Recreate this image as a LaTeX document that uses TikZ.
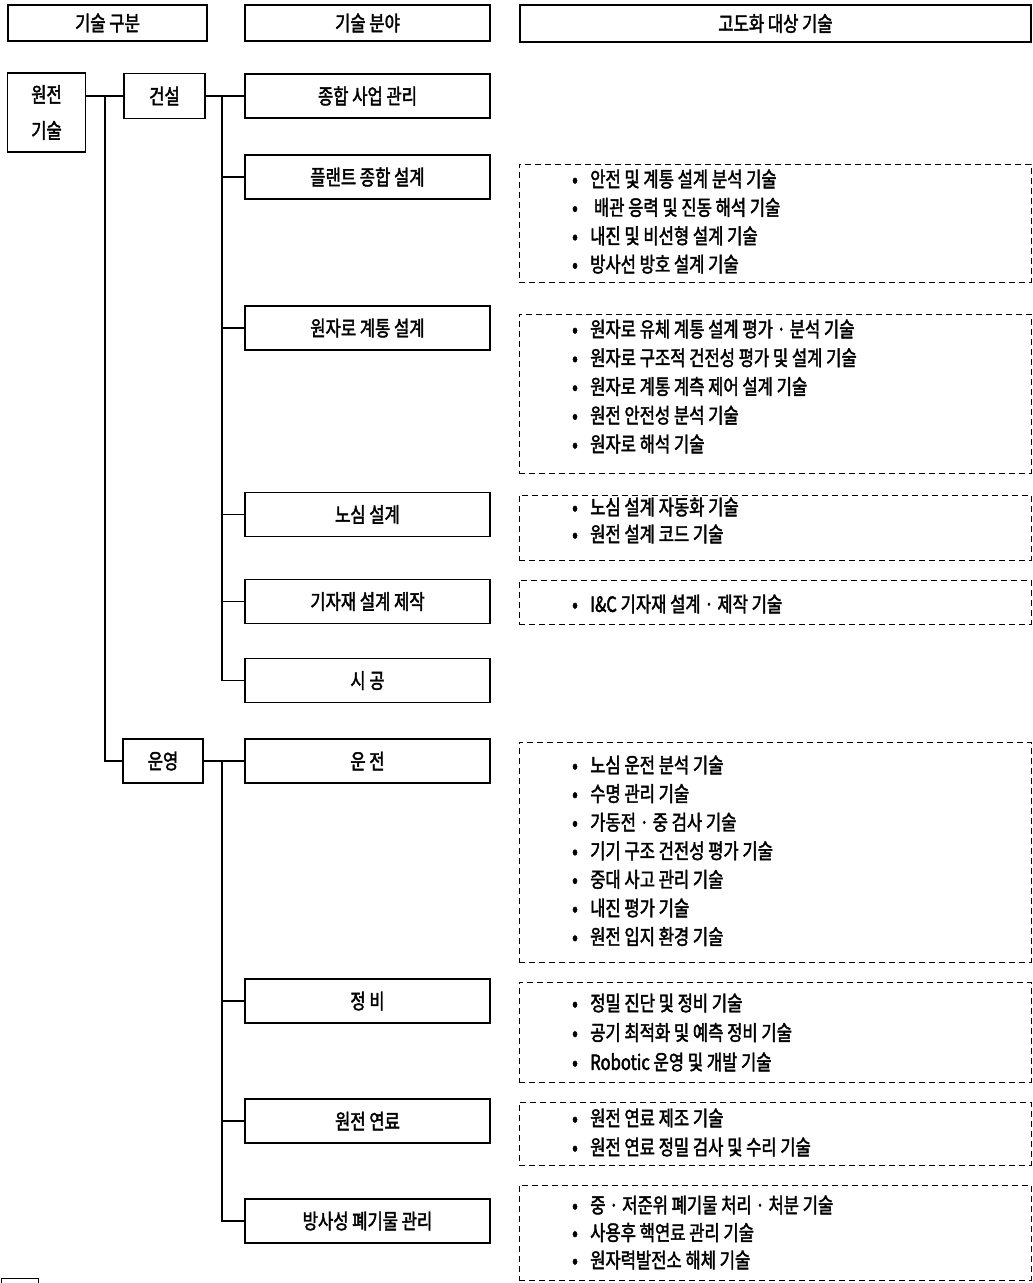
\documentclass[tikz,border=0pt]{standalone}
\usepackage{fontspec}
\setmainfont{Noto Sans CJK KR}[FakeStretch=0.79,FakeBold=2]
\begin{document}
\begin{tikzpicture}[x=1pt,y=-1pt,
  every node/.style={font=\fontsize{21}{26}\selectfont, inner sep=0pt},
  solidbox/.style={draw, line width=1.1pt, minimum height=44pt, minimum width=245pt},
  dbox/.style={draw, line width=1pt, dash pattern=on 6pt off 4pt, minimum width=512pt},
  item/.style={anchor=west},
  conn/.style={line width=1.1pt}]
\useasboundingbox (0,0) rectangle (1033,1283);
\clip (0,0) rectangle (1033,1283);
% headers
\node[solidbox, minimum width=199pt, minimum height=36pt] (h1) at (107.5,23) {기술 구분};
\node[solidbox, minimum height=36pt] (h2) at (367.5,23) {기술 분야};
\node[solidbox, minimum width=511pt, minimum height=37pt] (h3) at (775.5,23.5) {고도화 대상 기술};
% left
\node[solidbox, minimum width=78pt, minimum height=79pt, align=center, font=\fontsize{21}{36}\selectfont] (root) at (46.5,112.5) {원전\\기술};
\node[solidbox, minimum width=81pt, minimum height=45pt] (gs) at (164.5,96) {건설};
\node[solidbox, minimum width=80pt] (oy) at (163,761) {운영};
% fields
\node[solidbox] (f1) at (367.5,96) {종합 사업 관리};
\node[solidbox] (f2) at (367.5,177) {플랜트 종합 설계};
\node[solidbox] (f3) at (367.5,328) {원자로 계통 설계};
\node[solidbox] (f4) at (367.5,514.5) {노심 설계};
\node[solidbox] (f5) at (367.5,601.5) {기자재 설계 제작};
\node[solidbox] (f6) at (367.5,680.5) {시 공};
\node[solidbox] (f7) at (367.5,761) {운 전};
\node[solidbox] (f8) at (367.5,1001) {정 비};
\node[solidbox] (f9) at (367.5,1121) {원전 연료};
\node[solidbox] (f10) at (367.5,1221) {방사성 폐기물 관리};
% connectors
\coordinate (j1) at (105,96);
\coordinate (j2) at (222,96);
\coordinate (j3) at (222,761);
\draw[conn] (root.east |- gs.west) -- (gs.west);
\draw[conn] (j1) |- (oy.west);
\draw[conn] (gs.east) -- (f1.west);
\draw[conn] (j2) |- (f6.west);
\foreach \n in {f2,f3,f4,f5} \draw[conn] (j2 |- \n.west) -- (\n.west);
\draw[conn] (oy.east) -- (f7.west);
\draw[conn] (j3) |- (f10.west);
\foreach \n in {f8,f9} \draw[conn] (j3 |- \n.west) -- (\n.west);
% dashed boxes
\node[dbox, minimum height=118pt] (d2) at (775,223) {};
\node[dbox, minimum height=159pt] (d3) at (775,393.5) {};
\node[dbox, minimum height=65pt] (d4) at (775,527.5) {};
\node[dbox, minimum height=44pt] (d5) at (775,602) {};
\node[dbox, minimum height=220pt] (d7) at (775,852) {};
\node[dbox, minimum height=100pt] (d8) at (775,1032) {};
\node[dbox, minimum height=63pt] (d9) at (775,1133.5) {};
\node[dbox, minimum height=95pt] (d10) at (775,1232.5) {};
% items
\foreach \t [count=\i] in {안전 및 계통 설계 분석 기술,\ 배관 응력 및 진동 해석 기술,내진 및 비선형 설계 기술,방사선 방호 설계 기술}
  \node[item] (a\i) at (572,{179+28.4*(\i-1)}) {\makebox[18pt][l]{•}\t};
\foreach \t [count=\i] in {원자로 유체 계통 설계 평가 · 분석 기술,원자로 구조적 건전성 평가 및 설계 기술,원자로 계통 계측 제어 설계 기술,원전 안전성 분석 기술,원자로 해석 기술}
  \node[item] (b\i) at (572,{329+28.75*(\i-1)}) {\makebox[18pt][l]{•}\t};
\foreach \t [count=\i] in {노심 설계 자동화 기술,원전 설계 코드 기술}
  \node[item] (c\i) at (572,{507+27*(\i-1)}) {\makebox[18pt][l]{•}\t};
\node[item] (e1) at (572,604) {\makebox[18pt][l]{•}I\&C 기자재 설계 · 제작 기술};
\foreach \t [count=\i] in {노심 운전 분석 기술,수명 관리 기술,가동전 · 중 검사 기술,기기 구조 건전성 평가 기술,중대 사고 관리 기술,내진 평가 기술,원전 입지 환경 기술}
  \node[item] (g\i) at (572,{765+28.6*(\i-1)}) {\makebox[18pt][l]{•}\t};
\foreach \t [count=\i] in {정밀 진단 및 정비 기술,공기 최적화 및 예측 정비 기술,Robotic 운영 및 개발 기술}
  \node[item] (k\i) at (572,{1003+29.5*(\i-1)}) {\makebox[18pt][l]{•}\t};
\foreach \t [count=\i] in {원전 연료 제조 기술,원전 연료 정밀 검사 및 수리 기술}
  \node[item] (m\i) at (572,{1118+29*(\i-1)}) {\makebox[18pt][l]{•}\t};
\foreach \t [count=\i] in {중 · 저준위 폐기물 처리 · 처분 기술,사용후 핵연료 관리 기술,원자력발전소 해체 기술}
  \node[item] (p\i) at (572,{1205+27.5*(\i-1)}) {\makebox[18pt][l]{•}\t};
% legend box (cut off)
\node[draw, line width=1.1pt, anchor=north west, minimum width=37pt, minimum height=22pt] (lg) at (1,1278) {};
\end{tikzpicture}
\end{document}
